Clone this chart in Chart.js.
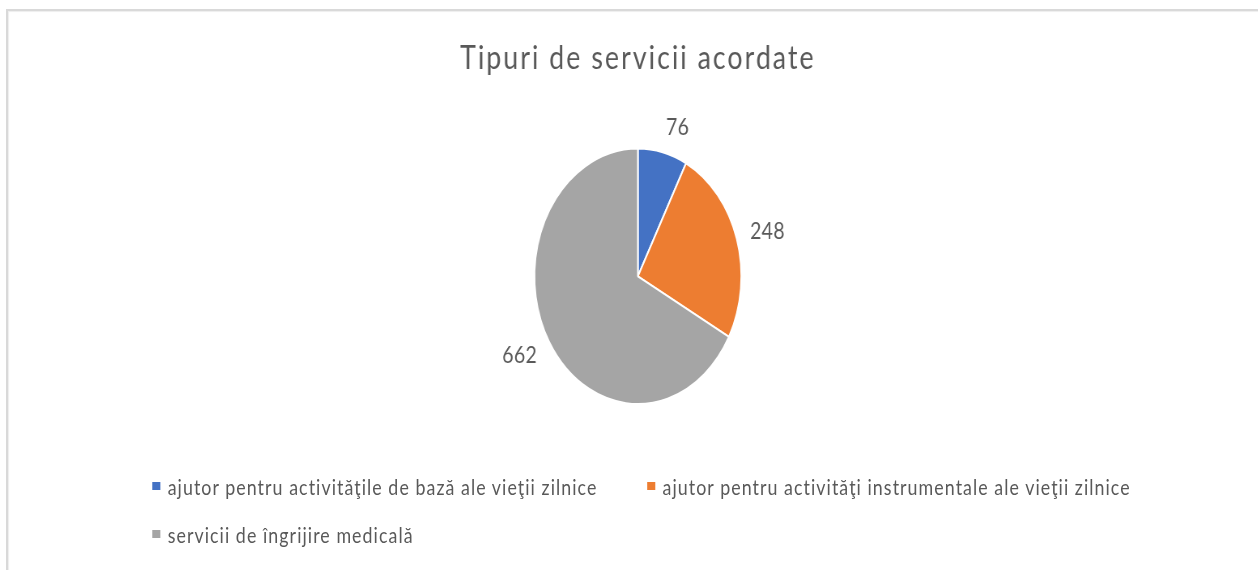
<!DOCTYPE html>
<html lang="ro">
<head>
<meta charset="utf-8">
<script src="https://cdn.jsdelivr.net/npm/chart.js@4/dist/chart.umd.min.js"></script>
<style>
  body { margin: 0; background: #fff; overflow: hidden; width: 1258px; height: 570px; }
  .rama { position: absolute; left: 6px; top: 9px; width: 1300px; height: 600px;
          border-left: 2px solid #d9d9d9; border-top: 2px solid #d9d9d9;
          box-shadow: inset 1px 1px 1px #eeeeee; }
  /* the original picture is squeezed horizontally */
  .strans { position: absolute; left: 0; top: 0; width: 1553px; height: 570px;
            transform: scaleX(0.81); transform-origin: 0 0; }
  #legenda { position: absolute; left: 188px; top: 477px; display: grid;
             grid-template-columns: 611px auto; font-family: Lato, sans-serif;
             font-size: 22px; line-height: 20px; letter-spacing: 1.3px; color: #595959; }
  #legenda div { height: 48px; white-space: nowrap; }
  #legenda span.patrat { display: inline-block; width: 10px; height: 8px;
                         margin-right: 9px; vertical-align: 5px; }
</style>
</head>
<body>
<div class="rama"></div>
<div class="strans">
  <canvas id="grafic" width="1553" height="570"></canvas>
  <div id="legenda"></div>
</div>
<script>
const titlu = 'Tipuri de servicii acordate';
const categorii = [
  'ajutor pentru activităţile de bază ale vieţii zilnice',
  'ajutor pentru activităţi instrumentale ale vieţii zilnice',
  'servicii de îngrijire medicală'
];
const valori = [76, 248, 662];
const culori = ['#4472C4', '#ED7D31', '#A5A5A5'];

const ctx = document.getElementById('grafic').getContext('2d');

// a bit of letter spacing for the title (the original font is wider)
const spatiereTitlu = {
  id: 'spatiereTitlu',
  beforeDraw(chart) {
    chart.ctx.letterSpacing = '2.5px';
  }
};

// value labels outside each slice
const eticheteValori = {
  id: 'eticheteValori',
  afterDatasetsDraw(chart) {
    const c = chart.ctx;
    const arce = chart.getDatasetMeta(0).data;
    c.save();
    c.letterSpacing = '0.5px';
    c.font = '24px Lato';
    c.fillStyle = '#595959';
    c.textAlign = 'center';
    c.textBaseline = 'middle';
    arce.forEach((arc, i) => {
      const p = arc.getProps(['x', 'y', 'startAngle', 'endAngle', 'outerRadius'], true);
      const mijloc = (p.startAngle + p.endAngle) / 2;
      const text = String(chart.data.datasets[0].data[i]);
      const w = c.measureText(text).width;
      const h = 18;
      const r = p.outerRadius + 17;
      const x = p.x + r * Math.cos(mijloc) + Math.sign(Math.cos(mijloc)) * w / 2;
      const y = p.y + r * Math.sin(mijloc) + Math.sin(mijloc) * h / 2;
      c.fillText(text, x, y);
    });
    c.restore();
  }
};

function generarLegenda(){
  const legenda = document.getElementById('legenda');
  categorii.forEach((cat, i) => {
    const item = document.createElement('div');
    const patrat = document.createElement('span');
    patrat.className = 'patrat';
    patrat.style.background = culori[i];
    item.appendChild(patrat);
    item.appendChild(document.createTextNode(cat));
    legenda.appendChild(item);
  });
}

const grafic = new Chart(ctx, {
  type: 'pie',
  data: {
    labels: categorii,
    datasets: [{
      data: valori,
      backgroundColor: culori,
      borderColor: '#ffffff',
      borderWidth: 2
    }]
  },
  options: {
    responsive: false,
    animation: false,
    devicePixelRatio: 1,
    layout: { padding: { left: 22, right: 0, top: 0, bottom: 165 } },
    plugins: {
      legend: { display: false },
      tooltip: { enabled: false },
      title: {
        display: true,
        text: titlu,
        color: '#595959',
        font: { family: 'Lato', size: 33, weight: 'normal', lineHeight: 1.2 },
        padding: { top: 39, bottom: 69 }
      }
    }
  },
  plugins: [spatiereTitlu, eticheteValori]
});

generarLegenda();
</script>
</body>
</html>
